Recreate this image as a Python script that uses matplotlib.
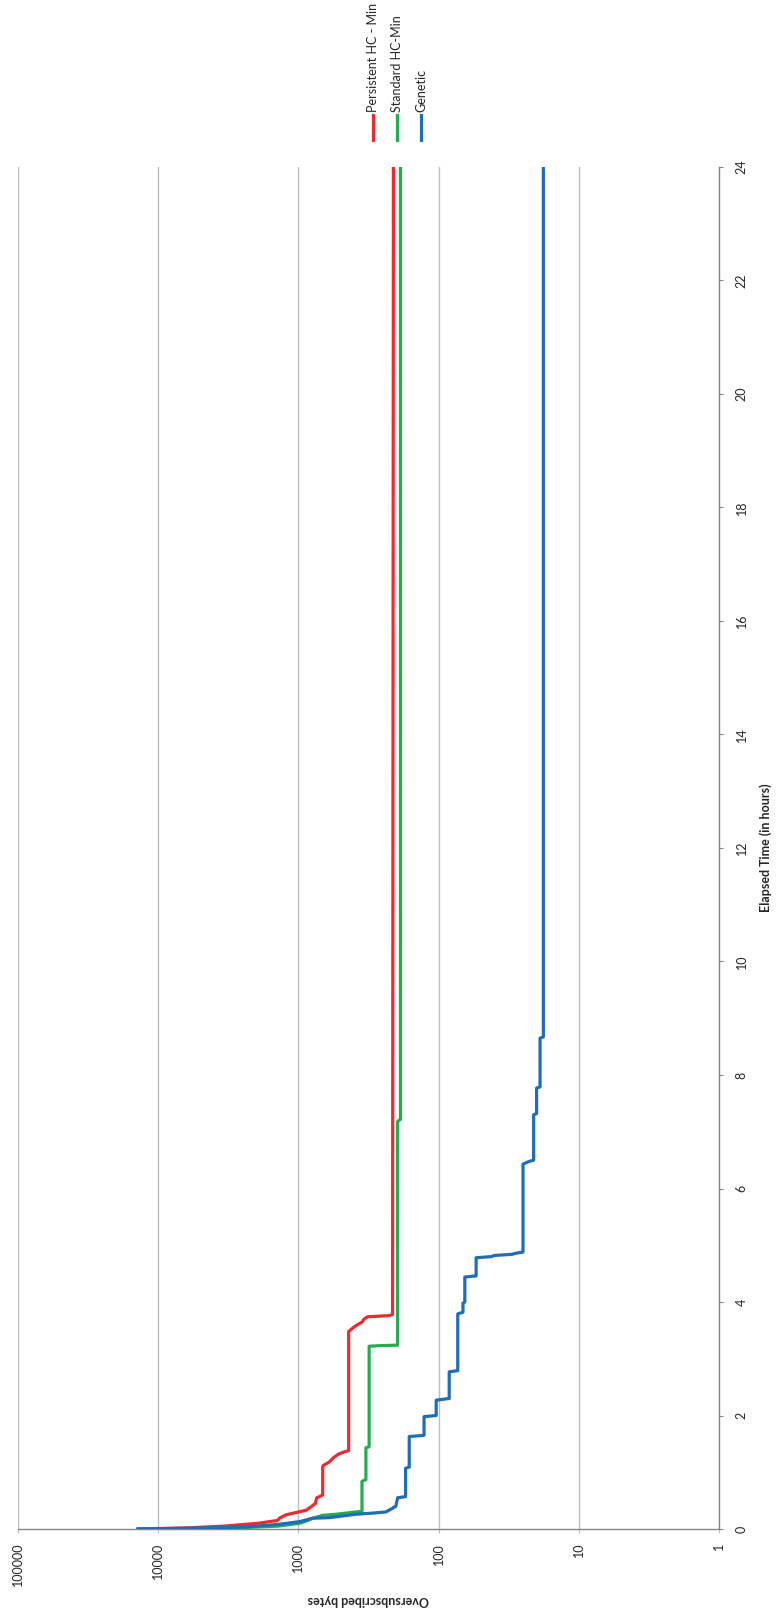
import numpy as np
import matplotlib
matplotlib.use('Agg')
import matplotlib.pyplot as plt
from matplotlib.lines import Line2D
from matplotlib.ticker import NullLocator

plt.rcParams['font.family'] = ['Lato', 'DejaVu Sans']
plt.rcParams['font.size'] = 9

# elapsed time (hours) / oversubscribed bytes for each search run
red_hours = [0, 0.02, 0.05, 0.10, 0.15, 0.19, 0.25, 0.30, 0.33, 0.39, 0.45, 0.55, 0.57, 0.60,
             1.10, 1.12, 1.18, 1.26, 1.32, 1.36, 1.38, 3.48, 3.52, 3.58, 3.65, 3.70, 3.74,
             3.76, 3.78, 24]
red_bytes = [13900, 6200, 3460, 1950, 1410, 1365, 1225, 1000, 882, 813, 758, 740, 708, 671,
             671, 664, 603, 560, 517, 470, 438, 438, 420, 390, 350, 340, 320,
             225, 213, 210]

green_hours = [0, 0.02, 0.05, 0.10, 0.13, 0.19, 0.24, 0.26, 0.28, 0.30, 0.31, 0.84, 0.87,
               1.43, 1.45, 3.22, 3.23, 3.24, 7.18, 7.22, 24]
green_bytes = [13900, 2750, 1410, 980, 900, 790, 671, 540, 458, 389, 352, 352, 330,
               330, 313, 313, 269, 196, 196, 187, 187]

blue_hours = [0, 0.02, 0.04, 0.08, 0.13, 0.19, 0.20, 0.26, 0.28, 0.30, 0.36, 0.40, 0.55,
              0.57, 1.07, 1.09, 1.63, 1.65, 1.98, 2.00, 2.27, 2.30, 2.77, 2.79, 3.79,
              3.82, 3.98, 4.00, 4.44, 4.46, 4.78, 4.80, 4.82, 4.84, 4.86, 4.88, 6.43,
              6.47, 6.50, 7.30, 7.32, 7.77, 7.79, 8.65, 8.67, 24]
blue_bytes = [13900, 4000, 2300, 1400, 980, 790, 602, 389, 295, 238, 215, 202, 196,
              172, 172, 162, 162, 127, 127, 104, 104, 84, 84, 73, 73,
              67, 67, 65, 65, 54, 54, 42, 40, 30, 28, 25, 25,
              23, 21, 21, 20, 20, 18.9, 18.9, 17.9, 17.9]

series = [
    ('Persistent HC - Min', red_hours, red_bytes, '#ee2a2e'),
    ('Standard HC-Min', green_hours, green_bytes, '#22ad4f'),
    ('Genetic', blue_hours, blue_bytes, '#1e6db6'),
]

time_ticks = list(range(0, 25, 2))
byte_ticks = [1, 10, 100, 1000, 10000, 100000]
byte_labels = ['1', '10', '100', '1000', '10000', '100000']

W, H = 776, 1610
fig = plt.figure(figsize=(W / 100, H / 100), dpi=100)
ax = fig.add_axes([18 / W, 81 / H, 701 / W, 1362 / H])

# chart is laid out sideways: bytes run along x (reversed), time runs up y
for name, hrs, val, col in series:
    ax.plot(val, hrs, color=col, lw=2.3, solid_joinstyle='round', zorder=3)

ax.set_xscale('log')
ax.set_xlim(100000, 1)
ax.set_ylim(0, 24)
ax.set_xticks(byte_ticks)
ax.set_xticklabels(byte_labels)
ax.xaxis.set_minor_locator(NullLocator())
ax.set_yticks(time_ticks)
ax.yaxis.tick_right()

axis_grey = '#868686'
ax.grid(axis='x', which='major', color='#bdbdbd', lw=1.0, zorder=0)
ax.grid(axis='y', visible=False)
for side in ['left', 'top']:
    ax.spines[side].set_visible(False)
for side in ['right', 'bottom']:
    ax.spines[side].set_color(axis_grey)
    ax.spines[side].set_linewidth(1.0)

ax.tick_params(axis='x', direction='out', length=3, color='#bdbdbd', pad=7,
               labelrotation=90, labelcolor='#262626')
ax.tick_params(axis='y', direction='out', length=3, color=axis_grey, pad=9,
               labelrotation=90, labelcolor='#262626')
for lab in ax.get_xticklabels():
    lab.set_va('top')
for lab in ax.get_yticklabels():
    lab.set_va('center')

fig.text(766 / W, 1 - 848 / H, 'Elapsed Time (in hours)', rotation=90,
         ha='center', va='center', fontweight='bold', color='#262626')
fig.text(368 / W, 1 - 1600 / H, 'Oversubscribed bytes', rotation=180,
         ha='center', va='center', fontweight='bold', color='#262626')

# legend along the top edge
for i, (name, hrs, val, col) in enumerate(series):
    x = (373 + 24 * i) / W
    fig.add_artist(Line2D([x, x], [1 - 140 / H, 1 - 115 / H], color=col, lw=2.3,
                          transform=fig.transFigure))
    fig.text(x, 1 - 112 / H, name, rotation=90, ha='center', va='bottom',
             color='#262626')

fig.savefig('out.png', dpi=100)
